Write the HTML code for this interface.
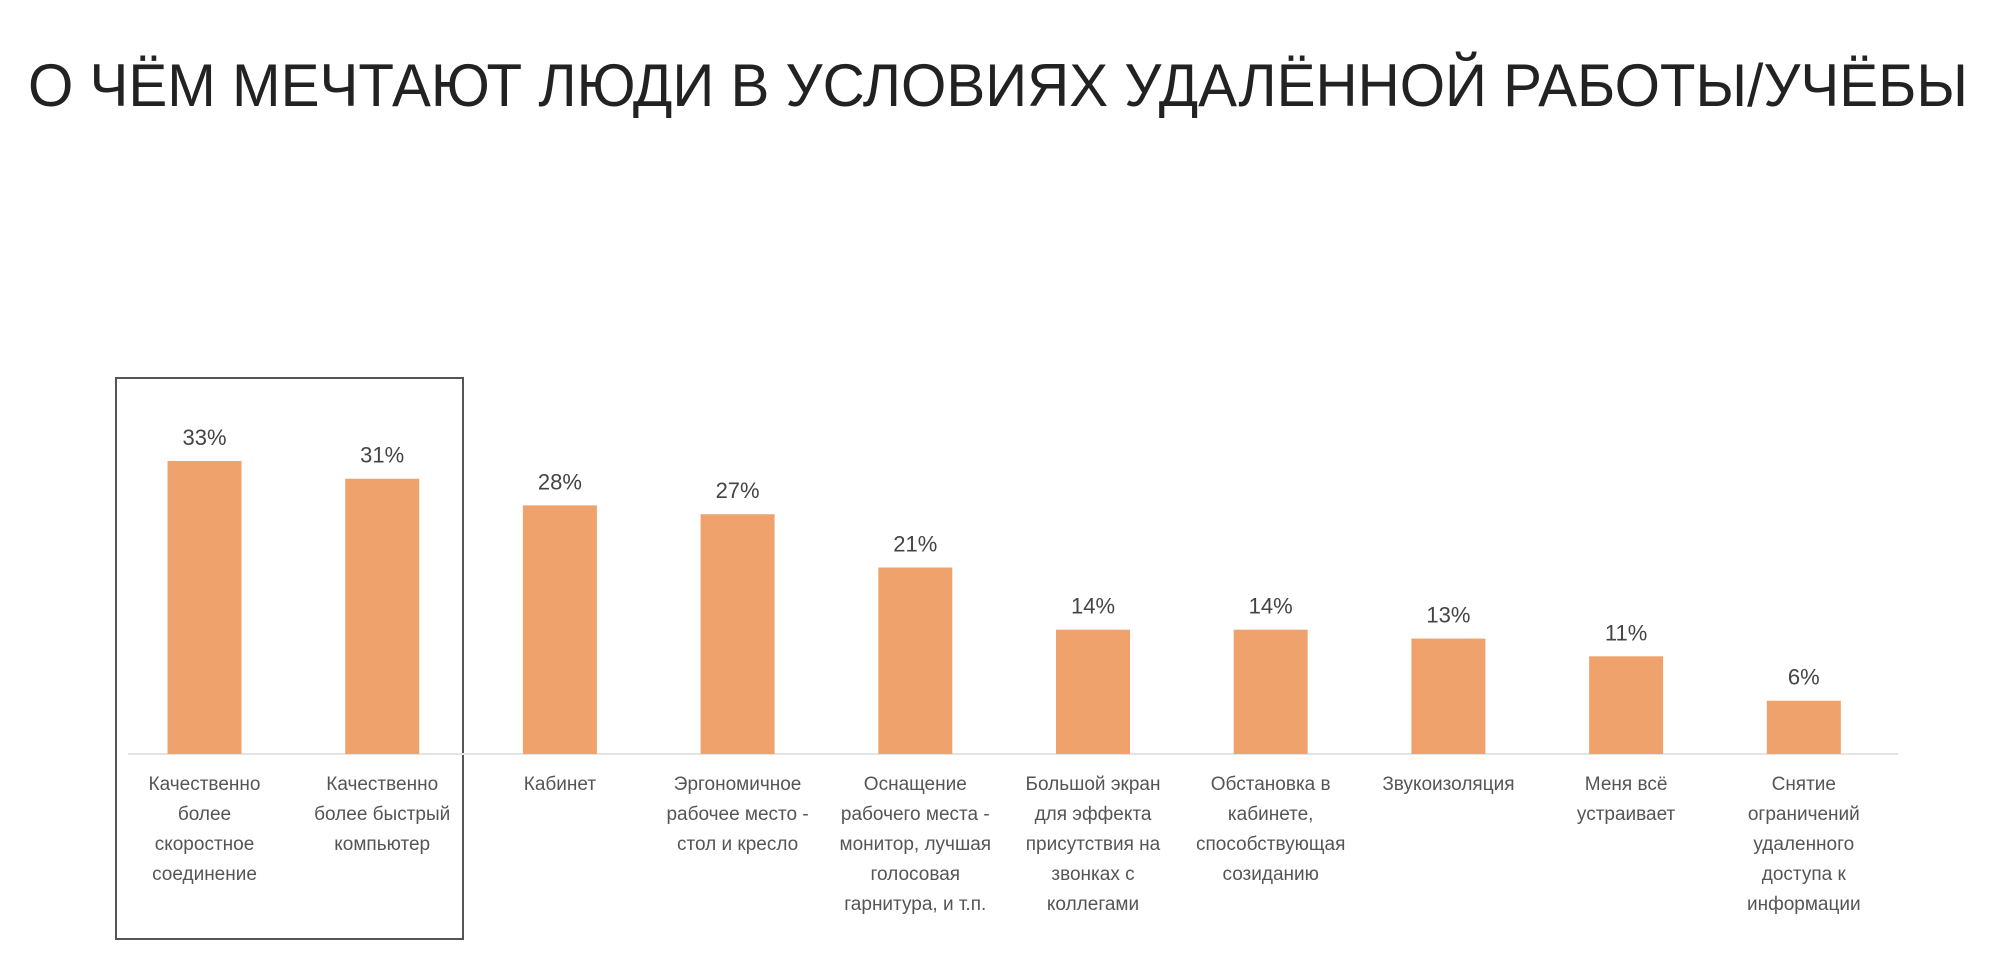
<!DOCTYPE html>
<html><head><meta charset="utf-8"><style>
html,body{margin:0;padding:0;background:#fff;}
svg{display:block;font-family:"Liberation Sans","DejaVu Sans",sans-serif;}
</style></head><body>
<svg id="chart" width="2004" height="973" viewBox="0 0 2004 973">
<text x="28" y="106" font-size="60" fill="#222" textLength="1940" lengthAdjust="spacingAndGlyphs">О ЧЁМ МЕЧТАЮТ ЛЮДИ В УСЛОВИЯХ УДАЛЁННОЙ РАБОТЫ/УЧЁБЫ</text>
<rect x="116" y="378" width="347" height="561" fill="none" stroke="#555" stroke-width="2"/>
<line x1="128" y1="754" x2="1898" y2="754" stroke="#e4e4e4" stroke-width="2"/>
<g id="bars"></g>
</svg>
<script>
const categories = [
 ["Качественно","более","скоростное","соединение"],
 ["Качественно","более быстрый","компьютер"],
 ["Кабинет"],
 ["Эргономичное","рабочее место -","стол и кресло"],
 ["Оснащение","рабочего места -","монитор, лучшая","голосовая","гарнитура, и т.п."],
 ["Большой экран","для эффекта","присутствия на","звонках с","коллегами"],
 ["Обстановка в","кабинете,","способствующая","созиданию"],
 ["Звукоизоляция"],
 ["Меня всё","устраивает"],
 ["Снятие","ограничений","удаленного","доступа к","информации"]
];
const values = [33,31,28,27,21,14,14,13,11,6];
const valueLabels = ["33%","31%","28%","27%","21%","14%","14%","13%","11%","6%"];

const NS="http://www.w3.org/2000/svg";
const g=document.getElementById('bars');
const baseY=754, pxPerPct=8.88, x0=204.5, step=177.7, bw=74;
function xScale(i){return x0+i*step;}
function yScale(v){return baseY-v*pxPerPct;}
values.forEach((v,i)=>{
  const cx=xScale(i), top=yScale(v);
  const r=document.createElementNS(NS,'rect');
  
  
  r.setAttribute('x',cx-bw/2); r.setAttribute('y',top);
  r.setAttribute('width',bw); r.setAttribute('height',baseY-top);
  r.setAttribute('fill','#efa26b');
  g.appendChild(r);
  const t=document.createElementNS(NS,'text');
  
  
  t.setAttribute('x',cx); t.setAttribute('y',top-16);
  t.setAttribute('text-anchor','middle'); t.setAttribute('font-size','22');
  t.setAttribute('fill','#444');
  t.textContent=valueLabels[i];
  g.appendChild(t);
  categories[i].forEach((line,j)=>{
    const c=document.createElementNS(NS,'text');
    
    
    c.setAttribute('x',cx); c.setAttribute('y',790+j*30);
    c.setAttribute('text-anchor','middle'); c.setAttribute('font-size','19');
    c.setAttribute('fill','#555');
    c.textContent=line;
    g.appendChild(c);
  });
});
</script>
</body></html>
